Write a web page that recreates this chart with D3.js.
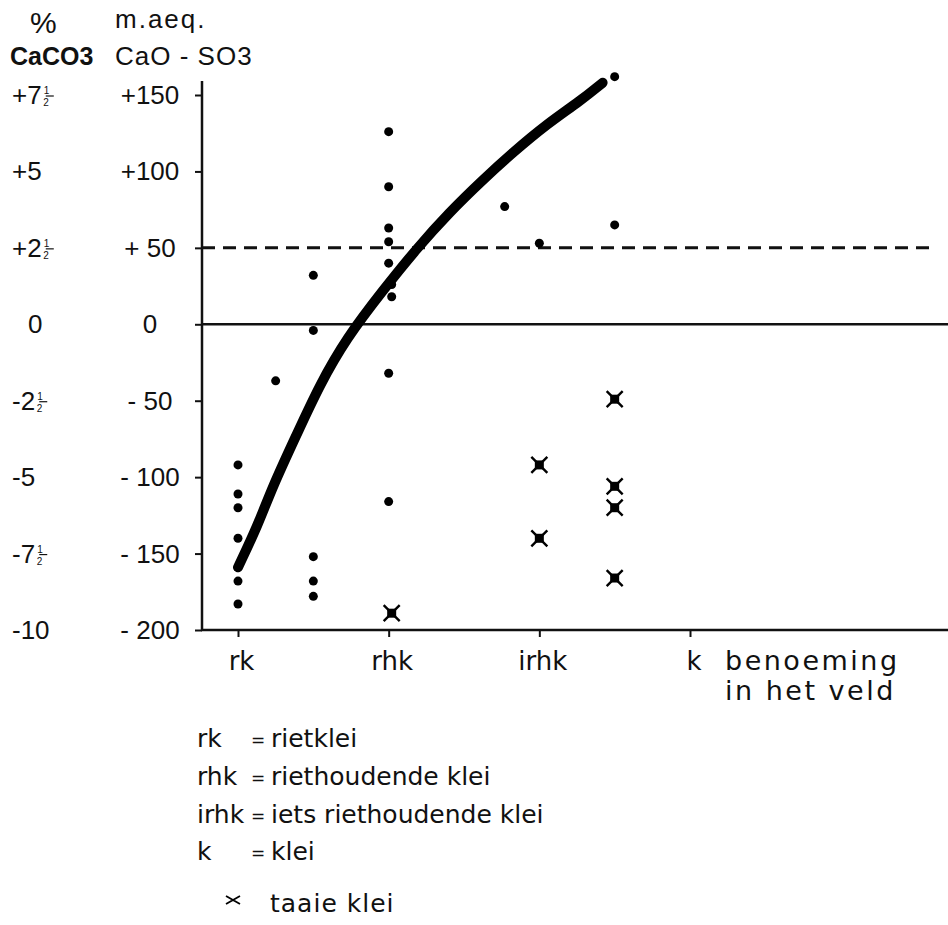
<!DOCTYPE html>
<html>
<head>
<meta charset="utf-8">
<script src="https://cdn.jsdelivr.net/npm/d3@7"></script>
<style>
  body { margin: 0; background: #fff; }
  svg { display: block; }
  text { fill: #111; }
  .num { font-family: "Liberation Sans", Arial, sans-serif; font-size: 26px; }
  .lbl { font-family: "DejaVu Sans", sans-serif; }
</style>
</head>
<body>
<svg id="chart" width="948" height="925"></svg>
<script>
///// *** DATA *** /////
var categories = ['rk', 'rhk', 'irhk', 'k'],
    yTicks = [150, 100, 50, 0, -50, -100, -150, -200],
    meqLabels = ['+150', '+100', '+ 50', '0', '- 50', '- 100', '- 150', '- 200'],
    pctLabels = ['+7½', '+5', '+2½', '0', '-2½', '-5', '-7½', '-10'],
    //positions are in category units (0 = rk, 1 = rhk, ...)
    dotX = [0, 0, 0, 0, 0, 0,
            0.25,
            0.5, 0.5, 0.5, 0.5, 0.5,
            1, 1, 1, 1, 1, 1.02, 1.02, 1, 1,
            1.77, 2, 2.5, 2.5],
    dotY = [-92, -111, -120, -140, -168, -183,
            -37,
            32, -4, -152, -168, -178,
            126, 90, 63, 54, 40, 26, 18, -32, -116,
            77, 53, 162, 65],
    crossX = [1.02, 2, 2, 2.5, 2.5, 2.5, 2.5],
    crossY = [-189, -92, -140, -49, -106, -120, -166],
    curveX = [0, 0.13, 0.23, 0.39, 0.54, 0.72, 0.96, 1.19, 1.4, 1.63, 1.82, 2.05, 2.27, 2.42],
    curveY = [-159, -132, -106, -72, -40, -9, 22, 50, 73, 95, 112, 131, 146, 158],
    legendAbbr = ['rk', 'rhk', 'irhk', 'k'],
    legendName = ['rietklei', 'riethoudende klei', 'iets riethoudende klei', 'klei'];

///// *** SETUP *** /////
var svg = d3.select('#chart'),
    axisX = 202,
    x = d3.scaleLinear().domain([0, 3]).range([238, 690]),
    y = d3.scaleLinear().domain([-200, 150]).range([630, 95]);

///// *** AXES *** /////
var yAxis = svg.append('g')
  .attr('transform', 'translate(' + axisX + ',0)')
  .call(d3.axisLeft(y).tickValues(yTicks).tickFormat('').tickSize(7).tickSizeOuter(0));
yAxis.select('.domain').remove();
yAxis.selectAll('line').attr('stroke', '#111').attr('stroke-width', 2);

svg.append('line')
  .attr('x1', axisX).attr('x2', axisX)
  .attr('y1', y(150) - 14).attr('y2', y(-200) + 1)
  .attr('stroke', '#111').attr('stroke-width', 2.5);

var xAxis = svg.append('g')
  .attr('transform', 'translate(0,' + y(-200) + ')')
  .call(d3.axisBottom(x).tickValues([0, 1, 2, 3]).tickFormat(function(d) { return categories[d]; })
    .tickSize(7).tickPadding(15).tickSizeOuter(0));
xAxis.select('.domain').remove();
xAxis.selectAll('line').attr('stroke', '#111').attr('stroke-width', 2);
xAxis.selectAll('text')
  .attr('class', 'lbl')
  .style('font-size', '26px')
  .attr('text-anchor', function(d) { return d === 3 ? 'start' : 'middle'; })
  .attr('dx', function(d) { return d === 3 ? -4 : 3; });

svg.append('line')
  .attr('x1', axisX - 1).attr('x2', 948)
  .attr('y1', y(-200)).attr('y2', y(-200))
  .attr('stroke', '#111').attr('stroke-width', 2.5);

//zero line and the +50 dashed line
svg.append('line')
  .attr('x1', axisX).attr('x2', 948)
  .attr('y1', y(0)).attr('y2', y(0))
  .attr('stroke', '#111').attr('stroke-width', 2.5);
svg.append('line')
  .attr('x1', axisX).attr('x2', 934)
  .attr('y1', y(50)).attr('y2', y(50))
  .attr('stroke', '#111').attr('stroke-width', 3)
  .attr('stroke-dasharray', '13,8');

///// *** TICK LABELS *** /////
svg.selectAll('.meq')
  .data(yTicks)
  .enter().append('text')
  .attr('class', 'num')
  .attr('x', 150)
  .attr('y', function(d) { return y(d) + 9; })
  .attr('text-anchor', 'middle')
  .text(function(d, i) { return meqLabels[i]; });

//percentage labels: the half is drawn as a small stacked fraction in one text
pctLabels.forEach(function(lab, i) {
  var half = lab.indexOf('½') >= 0,
      main = lab.replace('½', ''),
      yy = y(yTicks[i]) + 9,
      t = svg.append('text')
        .attr('class', 'num')
        .attr('x', (!half && main.length === 1) ? 28 : 12)
        .attr('y', yy);
  t.append('tspan').text(main);
  if (half) {
    t.append('tspan').style('font-size', '10px').attr('dx', 2).attr('dy', -10).text('1');
    t.append('tspan').style('font-size', '10px').attr('dx', -6).attr('dy', 12).text('2');
    var w = t.node().getComputedTextLength();
    svg.append('line')
      .attr('x1', 12 + w - 7).attr('x2', 12 + w + 1)
      .attr('y1', yy - 8).attr('y2', yy - 8)
      .attr('stroke', '#111').attr('stroke-width', 1.2);
  }
});

///// *** HEADERS *** /////
svg.append('text').attr('class', 'num').style('font-size', '30px')
  .attr('x', 30).attr('y', 33).text('%');
svg.append('text').attr('class', 'num').style('letter-spacing', '2px')
  .attr('x', 115).attr('y', 28).text('m.aeq.');
svg.append('text').attr('class', 'num').style('font-weight', 'bold').style('font-size', '25px')
  .attr('x', 10).attr('y', 65).text('CaCO3');
svg.append('text').attr('class', 'num').style('letter-spacing', '1px')
  .attr('x', 115).attr('y', 65).text('CaO - SO3');

svg.append('text').attr('class', 'lbl').style('font-size', '27px').style('letter-spacing', '2.5px')
  .attr('x', 725).attr('y', 670).text('benoeming');
svg.append('text').attr('class', 'lbl').style('font-size', '27px').style('letter-spacing', '2.5px')
  .attr('x', 725).attr('y', 700).text('in het veld');

///// *** CURVE *** /////
var line = d3.line()
  .x(function(d) { return x(d[0]); })
  .y(function(d) { return y(d[1]); })
  .curve(d3.curveBasis);

svg.append('path')
  .datum(d3.zip(curveX, curveY))
  .attr('d', line)
  .attr('fill', 'none')
  .attr('stroke', '#000')
  .attr('stroke-width', 10)
  .attr('stroke-linecap', 'round');

///// *** POINTS *** /////
svg.selectAll('.dot')
  .data(d3.zip(dotX, dotY))
  .enter().append('circle')
  .attr('class', 'dot')
  .attr('cx', function(d) { return x(d[0]); })
  .attr('cy', function(d) { return y(d[1]); })
  .attr('r', 4.5)
  .attr('fill', '#000');

function drawCross(g, cx, cy) {
  g.append('path')
    .attr('d', 'M' + (cx - 8) + ',' + (cy - 8) + 'L' + (cx + 8) + ',' + (cy + 8) +
               'M' + (cx - 8) + ',' + (cy + 8) + 'L' + (cx + 8) + ',' + (cy - 8))
    .attr('stroke', '#000').attr('stroke-width', 2.4);
  g.append('rect')
    .attr('x', cx - 4.5).attr('y', cy - 4.5)
    .attr('width', 9).attr('height', 9)
    .attr('fill', '#000');
}

d3.zip(crossX, crossY).forEach(function(d) {
  drawCross(svg, x(d[0]), y(d[1]));
});

///// *** LEGEND *** /////
legendAbbr.forEach(function(ab, i) {
  var by = 747 + i * 37.8,
      t = svg.append('text').attr('class', 'lbl').style('font-size', '25px')
        .attr('x', 197).attr('y', by).text(ab),
      w = t.node().getComputedTextLength(),
      eqX = Math.max(251, 197 + w + 6);
  svg.append('text').attr('class', 'lbl').style('font-size', '17px')
    .attr('x', eqX).attr('y', by - 1).text('=');
  svg.append('text').attr('class', 'lbl').style('font-size', '25px')
    .attr('x', eqX + 20).attr('y', by).text(legendName[i]);
});

svg.append('path')
  .attr('d', 'M226,896L240,904M226,904L240,896')
  .attr('stroke', '#000').attr('stroke-width', 1.8);
svg.append('text').attr('class', 'lbl').style('font-size', '25px').style('letter-spacing', '1px')
  .attr('x', 270).attr('y', 912).text('taaie klei');
</script>
</body>
</html>
